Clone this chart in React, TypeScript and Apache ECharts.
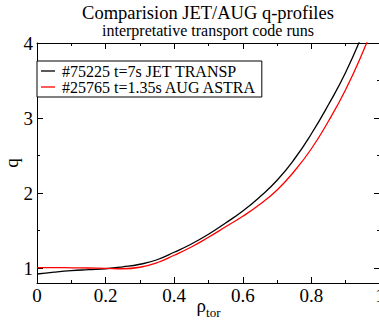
import React, { useEffect, useRef } from "react";
import * as echarts from "echarts";

const rho = [0, 0.05, 0.1, 0.15, 0.2, 0.25, 0.3, 0.35, 0.4, 0.45, 0.5, 0.55, 0.6, 0.65, 0.7, 0.75, 0.8, 0.85, 0.9, 0.95, 1.0];
const qJet = [0.92, 0.945, 0.965, 0.978, 0.99, 1.015, 1.05, 1.11, 1.21, 1.32, 1.45, 1.6, 1.76, 1.95, 2.17, 2.45, 2.79, 3.18, 3.61, 4.13, 4.75];
const qAug = [1.005, 1.005, 1.003, 1.0, 0.995, 0.99, 1.01, 1.07, 1.17, 1.28, 1.41, 1.55, 1.69, 1.85, 2.04, 2.29, 2.59, 2.96, 3.38, 3.88, 4.45];

const seriesNames = ["#75225 t=7s JET TRANSP", "#25765 t=1.35s AUG ASTRA"];
const seriesColors = ["#000000", "#ff0000"];
const yMajorTicks = [1, 2, 3, 4];
const yMinorTicks = [1.5, 2.5, 3.5];
const titleText = "Comparision JET/AUG q-profiles";
const subtitleText = "interpretative transport code runs";

const FONT = "Liberation Serif";

export default function App() {
  const ref = useRef<HTMLDivElement>(null);
  useEffect(() => {
    if (!ref.current) return;
    const chart = echarts.init(ref.current, null, { renderer: "svg" });
    const axisLine = { show: true, onZero: false, lineStyle: { color: "#000", width: 1 } };
    const yCommon = (position: string, ticks: number[], len: number, showLine: boolean, showLabel: boolean, extra: any = {}) => ({
      type: "value",
      min: 0.8,
      max: 4,
      position,
      axisLine: { ...axisLine, show: showLine },
      axisTick: { show: true, inside: true, length: len, customValues: ticks, lineStyle: { color: "#000", width: 1 } },
      axisLabel: showLabel
        ? { show: true, customValues: ticks, fontSize: 19, fontFamily: FONT, color: "#000", margin: 4 }
        : { show: false },
      splitLine: { show: false },
      nameMoveOverlap: false,
      ...extra,
    });
    const xCommon = (position: string, showLabel: boolean, extra: any = {}) => ({
      type: "value",
      min: 0,
      max: 1,
      interval: 0.2,
      position,
      axisLine,
      axisTick: { show: true, inside: true, length: 6, lineStyle: { color: "#000", width: 1 } },
      minorTick: { show: true, splitNumber: 2, length: 3, lineStyle: { color: "#000", width: 1 } },
      axisLabel: showLabel
        ? { show: true, fontSize: 19, fontFamily: FONT, color: "#000", margin: 3, hideOverlap: false }
        : { show: false },
      splitLine: { show: false },
      minorSplitLine: { show: false },
      nameMoveOverlap: false,
      ...extra,
    });
    chart.setOption({
      animation: false,
      backgroundColor: "#fff",
      textStyle: { fontFamily: FONT, color: "#000" },
      grid: { left: 37, right: -1, top: 43, bottom: 42, containLabel: false, outerBoundsMode: "none" },
      graphic: [
        {
          type: "text",
          x: 208,
          y: 13.25,
          style: { text: titleText, fill: "#000", font: `18.5px "${FONT}"`, align: "center", verticalAlign: "middle" },
        },
        {
          type: "text",
          x: 208,
          y: 30.5,
          style: { text: subtitleText, fill: "#000", font: `16px "${FONT}"`, align: "center", verticalAlign: "middle" },
        },
      ],
      legend: {
        left: 37,
        top: 61,
        orient: "vertical",
        padding: [2, 5, 2, 4],
        itemGap: 0,
        itemWidth: 14,
        itemHeight: 1.3,
        icon: "rect",
        borderColor: "#000",
        borderWidth: 1,
        borderRadius: 0,
        backgroundColor: "#fff",
        textStyle: { fontFamily: FONT, fontSize: 16, color: "#000", lineHeight: 15, padding: [0, 0, 0, 2] },
        data: seriesNames,
      },
      xAxis: [
        xCommon("bottom", true, {
          name: "{a|ρ}{b|tor}",
          nameLocation: "middle",
          nameGap: 13,
          nameTextStyle: {
            fontFamily: FONT,
            rich: {
              a: { fontSize: 19, fontFamily: FONT, color: "#000", lineHeight: 19 },
              b: { fontSize: 13, fontFamily: FONT, color: "#000", lineHeight: 13, padding: [14, 0, 0, 0] },
            },
          },
        }),
        xCommon("top", false),
      ],
      yAxis: [
        yCommon("left", yMajorTicks, 6, true, true, {
          name: "q",
          nameLocation: "middle",
          nameGap: 16,
          nameTextStyle: { fontSize: 19, fontFamily: FONT, color: "#000" },
        }),
        yCommon("left", yMinorTicks, 3, false, false),
        yCommon("right", yMajorTicks, 6, true, false),
        yCommon("right", yMinorTicks, 3, false, false),
      ],
      series: [
        {
          name: seriesNames[0],
          type: "line",
          xAxisIndex: 0,
          yAxisIndex: 0,
          data: rho.map((r, i) => [r, qJet[i]]),
          symbol: "none",
          smooth: 0.5,
          lineStyle: { color: seriesColors[0], width: 1.3 },
          itemStyle: { color: seriesColors[0] },
          clip: true,
        },
        {
          name: seriesNames[1],
          type: "line",
          xAxisIndex: 0,
          yAxisIndex: 0,
          data: rho.map((r, i) => [r, qAug[i]]),
          symbol: "none",
          smooth: 0.5,
          lineStyle: { color: seriesColors[1], width: 1.3 },
          itemStyle: { color: seriesColors[1] },
          clip: true,
        },
      ],
    });
    return () => chart.dispose();
  }, []);
  return <div ref={ref} style={{ position: "fixed", left: 0, top: 0, width: 379, height: 325 }} />;
}
